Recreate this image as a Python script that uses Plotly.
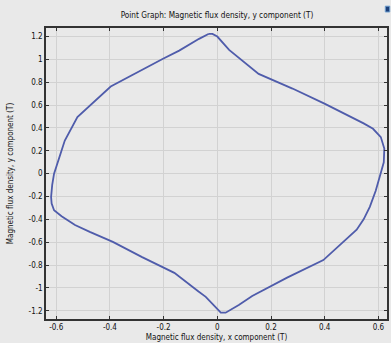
import plotly.graph_objects as go

# Closed trajectory of the magnetic flux density vector (Bx, By) in tesla
bx = [-0.033, -0.018, 0.0, 0.044, 0.154, 0.28, 0.401, 0.488, 0.545, 0.58, 0.609,
      0.622, 0.62, 0.608, 0.59, 0.568, 0.545, 0.519, 0.46, 0.395, 0.26, 0.13,
      0.08, 0.031, 0.013, -0.043, -0.07, -0.16, -0.28, -0.389, -0.475, -0.53,
      -0.58, -0.608, -0.617, -0.619, -0.615, -0.608, -0.58, -0.568, -0.521,
      -0.397, -0.204, -0.142, -0.068, -0.033]
by = [1.223, 1.223, 1.2, 1.083, 0.873, 0.745, 0.611, 0.509, 0.44, 0.393, 0.32,
      0.22, 0.1, 0.0, -0.15, -0.29, -0.4, -0.49, -0.62, -0.756, -0.91, -1.07,
      -1.15, -1.217, -1.217, -1.078, -1.032, -0.868, -0.73, -0.597, -0.51,
      -0.45, -0.373, -0.32, -0.262, -0.204, -0.1, 0.0, 0.203, 0.29, 0.495,
      0.763, 1.004, 1.077, 1.18, 1.223]

x_ticks = [-0.6, -0.4, -0.2, 0, 0.2, 0.4, 0.6]
x_tick_text = ["-0.6", "-0.4", "-0.2", "0", "0.2", "0.4", "0.6"]
y_ticks = [-1.2, -1, -0.8, -0.6, -0.4, -0.2, 0, 0.2, 0.4, 0.6, 0.8, 1, 1.2]
y_tick_text = ["-1.2", "-1", "-0.8", "-0.6", "-0.4", "-0.2", "0", "0.2", "0.4",
               "0.6", "0.8", "1", "1.2"]

FONT = "DejaVu Sans Condensed, sans-serif"
BG = "#e9e9e9"
INK = "#111111"

fig = go.Figure()
fig.add_trace(go.Scatter(
    x=bx, y=by, mode="lines",
    line=dict(color="#4f5cab", width=1.8),
    hoverinfo="skip", showlegend=False,
))

axis_common = dict(
    showgrid=True, gridcolor="#d2d2d2", gridwidth=1,
    zeroline=False, showline=True, linecolor="#333333", linewidth=1.5,
    mirror="ticks", ticks="inside", ticklen=3, tickcolor="#333333",
    tickfont=dict(family=FONT, size=8, color=INK),
)

fig.update_layout(
    width=391, height=343,
    margin=dict(l=46, r=2, t=28, b=24),
    paper_bgcolor=BG, plot_bgcolor=BG,
    title=dict(text="Point Graph: Magnetic flux density, y component (T)",
               x=0.555, xanchor="center", y=0.955, yanchor="middle",
               font=dict(family=FONT, size=8.2, color=INK)),
    xaxis=dict(range=[-0.638, 0.632], tickvals=x_ticks, ticktext=x_tick_text,
               title=dict(text="Magnetic flux density, x component (T)",
                          font=dict(family=FONT, size=8, color=INK),
                          standoff=3),
               **axis_common),
    yaxis=dict(range=[-1.272, 1.275], tickvals=y_ticks, ticktext=y_tick_text,
               title=dict(text="Magnetic flux density, y component (T)",
                          font=dict(family=FONT, size=8, color=INK),
                          standoff=14),
               **axis_common),
)

# small toolbar badge in the upper right corner
fig.add_shape(type="rect", xref="paper", yref="paper",
              x0=0.995, x1=1.008, y0=1.055, y1=1.075,
              fillcolor="#1c3f7a", line=dict(color="#6fa0d0", width=1))

fig.write_html("out.html")
